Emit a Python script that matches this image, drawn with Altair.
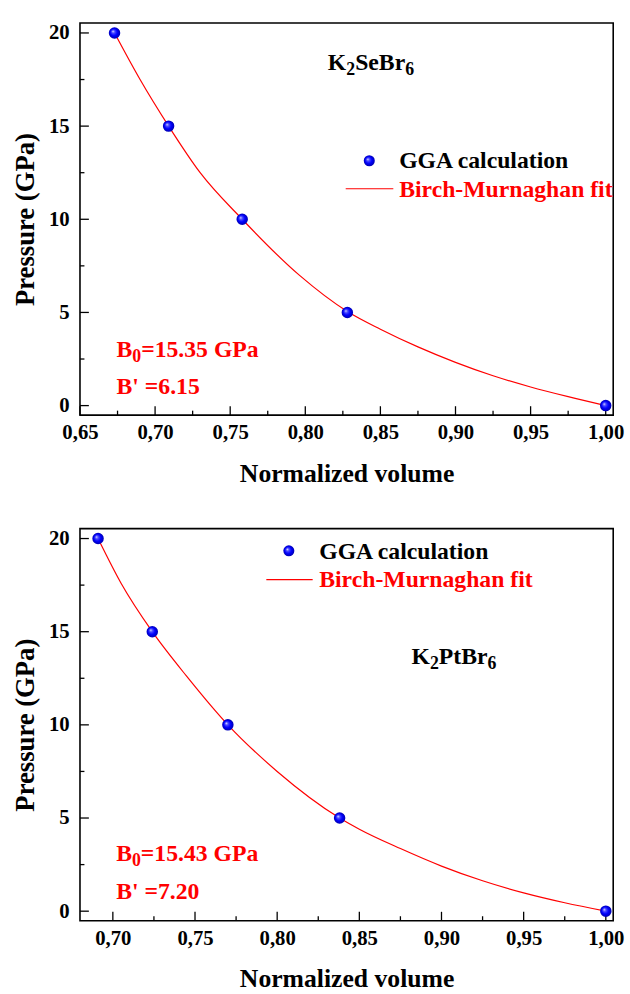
import altair as alt
import pandas as pd

FONT = "Liberation Serif"

# ---------------- data: top panel (K2SeBr6) ----------------
top_volume = [0.673, 0.709, 0.758, 0.828, 1.000]
top_pressure = [20, 15, 10, 5, 0]
top_fit_volume = [0.673, 0.690, 0.709, 0.730, 0.758, 0.796, 0.828, 0.850, 0.875, 0.900, 0.925, 0.950, 0.975, 1.000]
top_fit_pressure = [20.0, 17.5, 15.0, 12.5, 10.0, 7.0, 5.05, 4.1, 3.15, 2.32, 1.6, 1.0, 0.48, 0.0]
top_x_major = [0.65, 0.70, 0.75, 0.80, 0.85, 0.90, 0.95, 1.00]
top_x_minor = [0.675, 0.725, 0.775, 0.825, 0.875, 0.925, 0.975]

# ---------------- data: bottom panel (K2PtBr6) ----------------
bot_volume = [0.691, 0.724, 0.770, 0.838, 1.000]
bot_pressure = [20, 15, 10, 5, 0]
bot_fit_volume = [0.691, 0.705, 0.724, 0.745, 0.770, 0.800, 0.838, 0.850, 0.875, 0.900, 0.925, 0.950, 0.975, 1.000]
bot_fit_pressure = [20.0, 17.6, 15.0, 12.6, 10.0, 7.5, 5.0, 4.4, 3.36, 2.42, 1.63, 0.98, 0.45, 0.0]
bot_x_major = [0.70, 0.75, 0.80, 0.85, 0.90, 0.95, 1.00]
bot_x_minor = [0.725, 0.775, 0.825, 0.875, 0.925, 0.975]

y_major = [0, 5, 10, 15, 20]
y_minor = [2.5, 7.5, 12.5, 17.5]

# annotation anchors (data units)
top_ann = dict(
    formula=("K", "2", "SeBr", "6"), fx=0.8150, fy=18.0,
    b0="=15.35 GPa", bp="B' =6.15", bx=0.6743, b0y=2.63, bpy=0.60,
    mx=0.8426, my=13.14, tx=0.8625, t1y=12.75, t2y=11.19,
    lx1=0.8269, lx2=0.8586, ly=11.64,
)
bot_ann = dict(
    formula=("K", "2", "PtBr", "6"), fx=0.8817, fy=13.25,
    b0="=15.43 GPa", bp="B' =7.20", bx=0.7020, b0y=2.69, bpy=0.65,
    mx=0.8071, my=19.34, tx=0.8256, t1y=18.90, t2y=17.40,
    lx1=0.7934, lx2=0.8216, ly=17.79,
)

W, H = 540, 397
RED = "#ff0000"

sphere = alt.RadialGradient(
    gradient="radial",
    x1=0.35, y1=0.35, r1=0.0,
    x2=0.5, y2=0.5, r2=0.5,
    stops=[
        alt.GradientStop(offset=0.0, color="#f0f0ff"),
        alt.GradientStop(offset=0.25, color="#5050ff"),
        alt.GradientStop(offset=0.6, color="#0000ff"),
        alt.GradientStop(offset=1.0, color="#0000b0"),
    ],
)


def panel(vol, pres, fit_v, fit_p, xdom, xmajor, xminor, ann):
    xscale = alt.Scale(domain=xdom, nice=False, zero=False)
    yscale = alt.Scale(domain=[-0.51, 20.53], nice=False, zero=False)
    xaxis = alt.Axis(
        values=xmajor,
        labelExpr="replace(format(datum.value, '.2f'), '.', ',')",
        ticks=False, tickSize=0, domain=False, grid=False,
        labelFont=FONT, labelFontWeight="bold", labelFontSize=21, labelColor="black",
        labelPadding=24, labelBaseline="alphabetic", labelFlush=False, labelOverlap=False,
        title="Normalized volume", titleFont=FONT, titleFontWeight="bold", titleFontSize=26,
        titleColor="black", titleX=W / 2, titleY=67, titleBaseline="alphabetic", titleAlign="center",
    )
    yaxis = alt.Axis(
        values=y_major, format="d",
        ticks=False, tickSize=0, domain=False, grid=False,
        labelFont=FONT, labelFontWeight="bold", labelFontSize=21, labelColor="black",
        labelPadding=11, labelFlush=False, labelOverlap=False,
        title="Pressure (GPa)", titleFont=FONT, titleFontWeight="bold", titleFontSize=27,
        titleColor="black", titleX=-47, titleY=H / 2, titleAngle=270,
        titleBaseline="alphabetic", titleAlign="center",
    )

    def X(f):
        return alt.X(f"{f}:Q", scale=xscale, axis=xaxis)

    def Y(f):
        return alt.Y(f"{f}:Q", scale=yscale, axis=yaxis)

    pts = pd.DataFrame({"x": vol, "y": pres})
    fit = pd.DataFrame({"x": fit_v, "y": fit_p})

    layers = []
    # tick marks (inward)
    layers.append(alt.Chart(pd.DataFrame({"x": xmajor})).mark_rule(color="black", strokeWidth=1.3)
                  .encode(x=X("x"), y=alt.value(H), y2=alt.value(H - 9)))
    layers.append(alt.Chart(pd.DataFrame({"x": xminor})).mark_rule(color="black", strokeWidth=1.3)
                  .encode(x=X("x"), y=alt.value(H), y2=alt.value(H - 4.5)))
    layers.append(alt.Chart(pd.DataFrame({"y": y_major})).mark_rule(color="black", strokeWidth=1.3)
                  .encode(y=Y("y"), x=alt.value(0), x2=alt.value(9)))
    layers.append(alt.Chart(pd.DataFrame({"y": y_minor})).mark_rule(color="black", strokeWidth=1.3)
                  .encode(y=Y("y"), x=alt.value(0), x2=alt.value(4.5)))

    # fit curve
    layers.append(alt.Chart(fit).mark_line(color=RED, strokeWidth=1.2, interpolate="monotone")
                  .encode(x=X("x"), y=Y("y"), order="x:Q"))
    # data points
    layers.append(alt.Chart(pts).mark_circle(fill=sphere, size=135, opacity=1)
                  .encode(x=X("x"), y=Y("y")))

    # legend
    layers.append(alt.Chart(pd.DataFrame({"x": [ann["mx"]], "y": [ann["my"]]}))
                  .mark_circle(fill=sphere, size=125, opacity=1).encode(x=X("x"), y=Y("y")))
    layers.append(alt.Chart(pd.DataFrame({"x": [ann["lx1"]], "x2": [ann["lx2"]], "y": [ann["ly"]]}))
                  .mark_rule(color=RED, strokeWidth=1.2).encode(x=X("x"), x2="x2:Q", y=Y("y")))
    txt = dict(font=FONT, fontWeight="bold", align="left", baseline="alphabetic")
    layers.append(alt.Chart(pd.DataFrame({"x": [ann["tx"]], "y": [ann["t1y"]], "t": ["GGA calculation"]}))
                  .mark_text(fontSize=24, color="black", **txt).encode(x=X("x"), y=Y("y"), text="t:N"))
    layers.append(alt.Chart(pd.DataFrame({"x": [ann["tx"]], "y": [ann["t2y"]], "t": ["Birch-Murnaghan fit"]}))
                  .mark_text(fontSize=24, color=RED, **txt).encode(x=X("x"), y=Y("y"), text="t:N"))

    # chemical formula with subscripts
    k, s1, mid, s2 = ann["formula"]
    mid_w = sum({"S": .556, "e": .444, "B": .667, "r": .444, "P": .611, "t": .333}[c] for c in mid) * 24
    fdf = lambda t: pd.DataFrame({"x": [ann["fx"]], "y": [ann["fy"]], "t": [t]})
    pieces = [(k, 24, 0, 0), (s1, 18, 18.7, 5), (mid, 24, 27.7, 0), (s2, 18, 27.7 + mid_w, 5)]
    for t, fs, dx, dy in pieces:
        layers.append(alt.Chart(fdf(t)).mark_text(fontSize=fs, color="black", dx=dx, dy=dy, **txt)
                      .encode(x=X("x"), y=Y("y"), text="t:N"))

    # bulk modulus annotations
    bdf = lambda t, y: pd.DataFrame({"x": [ann["bx"]], "y": [y], "t": [t]})
    for t, fs, dx, dy in [("B", 24, 0, 0), ("0", 18, 16, 5), (ann["b0"], 24, 25, 0)]:
        layers.append(alt.Chart(bdf(t, ann["b0y"])).mark_text(fontSize=fs, color=RED, dx=dx, dy=dy, **txt)
                      .encode(x=X("x"), y=Y("y"), text="t:N"))
    layers.append(alt.Chart(bdf(ann["bp"], ann["bpy"])).mark_text(fontSize=24, color=RED, **txt)
                  .encode(x=X("x"), y=Y("y"), text="t:N"))

    return alt.layer(*layers).properties(width=W, height=H)


top = panel(top_volume, top_pressure, top_fit_volume, top_fit_pressure,
            [0.65, 1.005], top_x_major, top_x_minor, top_ann)
bottom = panel(bot_volume, bot_pressure, bot_fit_volume, bot_fit_pressure,
               [0.68, 1.0045], bot_x_major, bot_x_minor, bot_ann)

chart = (
    alt.vconcat(top, bottom, spacing=115, bounds="flush")
    .properties(padding={"left": 11, "top": 15, "right": 5, "bottom": 5}, background="white")
    .configure_view(stroke="black", strokeWidth=1.6)
)

chart.save("out.html", embed_options={"renderer": "svg", "actions": False})
